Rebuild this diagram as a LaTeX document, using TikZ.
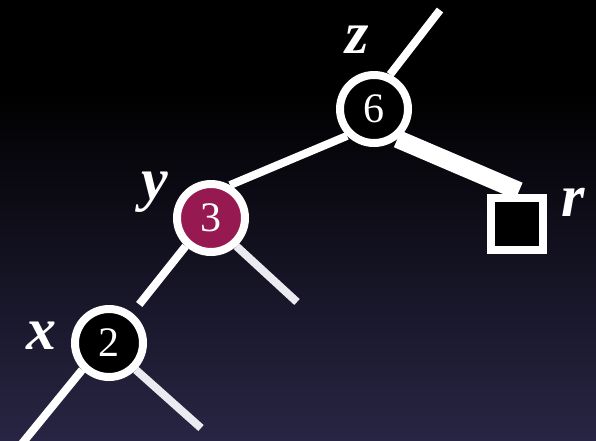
\documentclass[tikz,border=0pt]{standalone}
\usepackage{fontspec}
\setmainfont{Liberation Serif}
\pgfdeclarelayer{back}
\pgfdeclarelayer{links}
\pgfsetlayers{back,links,main}
\definecolor{bgtop}{RGB}{0,0,0}
\definecolor{bgbottom}{RGB}{40,37,68}
\definecolor{redfill}{RGB}{150,25,82}
\definecolor{softwhite}{RGB}{234,234,240}
\tikzset{
  treenode/.style={circle, draw=white, line width=8pt, fill=black, minimum size=68pt,
    inner sep=0pt, text=white, font=\fontsize{42}{42}\selectfont},
  rednode/.style={treenode, fill=redfill},
  leafbox/.style={rectangle, draw=white, line width=8pt, fill=black, minimum size=52pt, inner sep=0pt},
  link/.style={white, line width=8pt},
  lightlink/.style={softwhite, line width=8pt},
  heavylink/.style={white, line width=18pt},
  varlabel/.style={text=white, font=\fontsize{60}{60}\selectfont\bfseries\itshape, inner sep=0pt},
}
\begin{document}
\begin{tikzpicture}[x=1pt,y=-1pt]
  \useasboundingbox (0,0) rectangle (596,440);
  \begin{pgfonlayer}{back}
    % black band at the top, then a fade into dark violet
    \fill[bgtop] (0,0) rectangle (596,91);
    \shade[top color=bgtop, bottom color=bgbottom] (0,90) rectangle (596,440);
  \end{pgfonlayer}

  % tree nodes
  \node[treenode] (n6) at (374,109) {6};
  \node[rednode]  (n3) at (211,218) {3};
  \node[treenode] (n2) at (109,343) {2};
  \node[leafbox]  (r)  at (517,224) {};

  % node labels
  \node[varlabel] (lz) at (357,40)  {z};
  \node[varlabel] (ly) at (155,192) {y};
  \node[varlabel] (lx) at (41,336)  {x};
  \node[varlabel] (lr) at (573,202) {r};

  % free ends of dangling edges
  \coordinate (top6) at (440,10);
  \coordinate (rtip) at (519,191);
  \coordinate (c3r)  at (297,302);
  \coordinate (c2l)  at (20,446);
  \coordinate (c2r)  at (201,428);

  \begin{pgfonlayer}{links}
    \draw[link] (n6.65) -- (top6);
    \draw[link] (n6.225) -- (n3.60);
    \draw[heavylink] (n6.-52) -- (rtip);
    \draw[link, shorten >=11pt] (n3.228) -- (n2.52);
    \draw[lightlink] (n3.-48) -- (c3r);
    \draw[link] (n2.225) -- (c2l);
    \draw[lightlink] (n2.-45) -- (c2r);
  \end{pgfonlayer}
\end{tikzpicture}
\end{document}
